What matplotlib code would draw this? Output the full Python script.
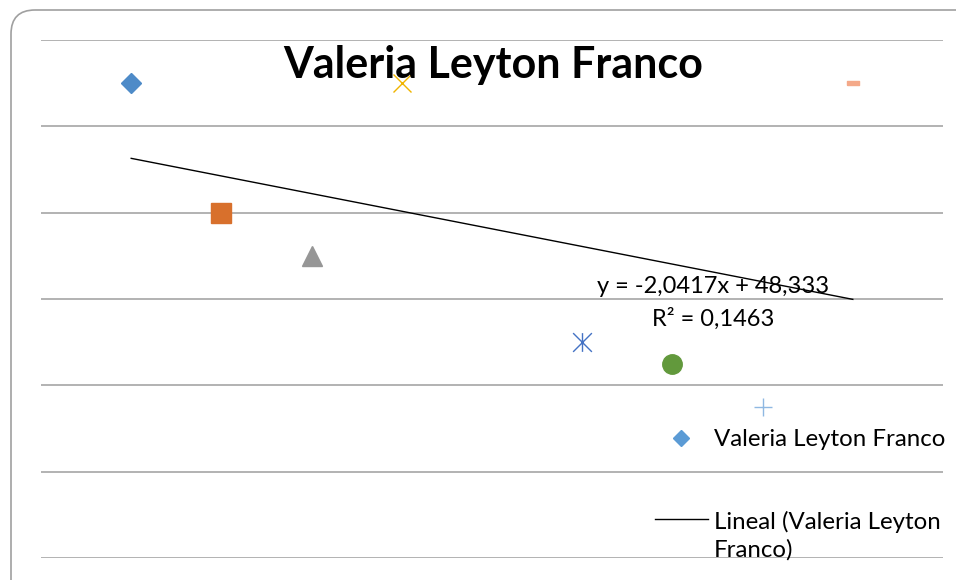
import numpy as np
import matplotlib
matplotlib.use("Agg")
import matplotlib.pyplot as plt
from matplotlib.lines import Line2D
from matplotlib.patches import FancyBboxPatch
from matplotlib.path import Path

# data (one series, Excel "vary colors by point")
title = "Valeria Leyton Franco"
x_vals = [1, 2, 3, 4, 6, 7, 8, 9]
y_vals = [55, 40, 35, 55, 25, 22.5, 17.5, 55]
y_ticks = [0, 10, 20, 30, 40, 50, 60]
series_label = "Valeria Leyton Franco"
trend_label = "Lineal (Valeria Leyton\nFranco)"

W, H = 956, 580
FONT = "Lato"
TXT = 17.3

# excel marker shapes
asterisk = Path([(-0.5, -0.5), (0.5, 0.5), (-0.5, 0.5), (0.5, -0.5), (0, -0.5), (0, 0.5)],
                [Path.MOVETO, Path.LINETO, Path.MOVETO, Path.LINETO, Path.MOVETO, Path.LINETO])
dash = [(-1, -0.42), (1, -0.42), (1, 0.42), (-1, 0.42), (-1, -0.42)]
styles = [
    dict(marker="D", ms=10, color="#4e8bc8"),
    dict(marker="s", ms=14, color="#d8702c"),
    dict(marker="^", ms=14, color="#969696"),
    dict(marker="x", ms=13, color="#f0b400", mew=1),
    dict(marker=asterisk, ms=13.5, color="#4472c4", mew=1),
    dict(marker="o", ms=14, color="#62993c"),
    dict(marker="+", ms=13.5, color="#8fb8e2", mew=1),
    dict(marker=dash, ms=8, color="#f4a989"),
]


def px(x, y):
    """pixel position (from top-left) to figure fraction"""
    return x / W, 1 - y / H


fig = plt.figure(figsize=(W / 100, H / 100), dpi=100)
ax = fig.add_axes([41 / W, 22 / H, 902 / W, 518 / H])
ax.set_xlim(0, 10)
ax.set_ylim(0, 60)
ax.set_yticks(y_ticks)
ax.set_xticks([])
ax.tick_params(left=False, labelleft=False)
for s in ax.spines.values():
    s.set_visible(False)
ax.yaxis.grid(True, color="#a6a6a6", lw=1.2)
ax.set_axisbelow(True)

# chart border (rounded, runs off the right and bottom) - in pixels
fig.add_artist(FancyBboxPatch((11, -40), 990, 610,
                              boxstyle="round,pad=0,rounding_size=24",
                              transform=None, fill=False,
                              ec="#a0a0a0", lw=1.2))

# trendline
slope, icpt = np.polyfit(x_vals, y_vals, 1)
pred = slope * np.array(x_vals) + icpt
r2 = 1 - np.sum((np.array(y_vals) - pred) ** 2) / np.sum((np.array(y_vals) - np.mean(y_vals)) ** 2)
xt = np.array([min(x_vals), max(x_vals)])
ax.plot(xt, slope * xt + icpt, color="black", lw=1, zorder=2)

for xv, yv, st in zip(x_vals, y_vals, styles):
    ax.plot([xv], [yv], ls="none", zorder=3, markeredgecolor=st["color"],
            markerfacecolor=st["color"], **{k: v for k, v in st.items() if k != "color"})

fig.text(*px(493, 78), title, ha="center", va="baseline",
         fontsize=31, fontweight="bold", family=FONT)

eq = "y = {:.4f}x + {:.3f}".format(slope, icpt).replace(".", ",")
fig.text(*px(713, 293), eq, ha="center", va="baseline", fontsize=17, family=FONT)
fig.text(*px(713, 326), "R² = {:.4f}".format(r2).replace(".", ","),
         ha="center", va="baseline", fontsize=17, family=FONT)

# legend, laid out like Excel's
fig.add_artist(Line2D([681 / W], [1 - 438 / H], marker="D", ms=8, color="#5b9bd5",
                      transform=fig.transFigure))
fig.text(*px(714, 446), series_label, ha="left", va="baseline", fontsize=TXT, family=FONT)
fig.add_artist(Line2D([655 / W, 708 / W], [1 - 519 / H] * 2, color="black", lw=1,
                      transform=fig.transFigure))
fig.text(*px(714, 557), trend_label, ha="left", va="baseline", fontsize=TXT,
         family=FONT, linespacing=1.38)

fig.savefig("out.png", dpi=100)
